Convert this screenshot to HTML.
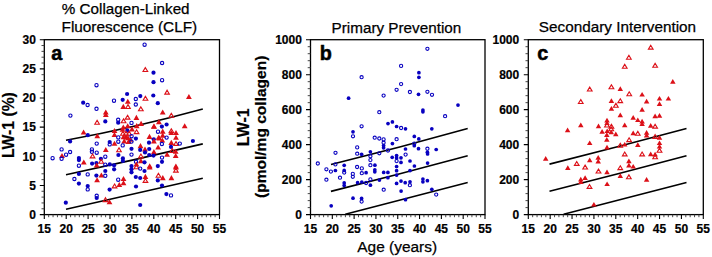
<!DOCTYPE html>
<html><head><meta charset="utf-8"><style>
html,body{margin:0;padding:0;background:#fff;width:712px;height:257px;overflow:hidden}
svg{display:block}
text{font-family:"Liberation Sans",sans-serif;fill:#000}
.t{font-size:12.0px;font-weight:bold;stroke:#000;stroke-width:0.2px}
.ti{font-size:15.2px;stroke:#000;stroke-width:0.25px}
.yt{font-size:15.8px;font-weight:bold;stroke:#000;stroke-width:0.2px}
.yt2{font-size:15.5px;font-weight:bold;stroke:#000;stroke-width:0.2px}
.pl{font-size:19.8px;font-weight:bold;stroke:#000;stroke-width:0.5px}
</style></head><body>
<svg width="712" height="257" viewBox="0 0 712 257">
<rect x="44.30" y="39.70" width="175.20" height="174.90" fill="none" stroke="#000" stroke-width="1.3"/>
<path d="M44.30 214.60v4.5M66.20 214.60v4.5M88.10 214.60v4.5M110.00 214.60v4.5M131.90 214.60v4.5M153.80 214.60v4.5M175.70 214.60v4.5M197.60 214.60v4.5M219.50 214.60v4.5M44.30 214.60h-4.5M44.30 185.45h-4.5M44.30 156.30h-4.5M44.30 127.15h-4.5M44.30 98.00h-4.5M44.30 68.85h-4.5M44.30 39.70h-4.5" stroke="#000" stroke-width="1.1" fill="none"/>
<path d="M48.68 214.60v2.6M53.06 214.60v2.6M57.44 214.60v2.6M61.82 214.60v2.6M70.58 214.60v2.6M74.96 214.60v2.6M79.34 214.60v2.6M83.72 214.60v2.6M92.48 214.60v2.6M96.86 214.60v2.6M101.24 214.60v2.6M105.62 214.60v2.6M114.38 214.60v2.6M118.76 214.60v2.6M123.14 214.60v2.6M127.52 214.60v2.6M136.28 214.60v2.6M140.66 214.60v2.6M145.04 214.60v2.6M149.42 214.60v2.6M158.18 214.60v2.6M162.56 214.60v2.6M166.94 214.60v2.6M171.32 214.60v2.6M180.08 214.60v2.6M184.46 214.60v2.6M188.84 214.60v2.6M193.22 214.60v2.6M201.98 214.60v2.6M206.36 214.60v2.6M210.74 214.60v2.6M215.12 214.60v2.6M44.30 208.77h-2.8M44.30 202.94h-2.8M44.30 197.11h-2.8M44.30 191.28h-2.8M44.30 179.62h-2.8M44.30 173.79h-2.8M44.30 167.96h-2.8M44.30 162.13h-2.8M44.30 150.47h-2.8M44.30 144.64h-2.8M44.30 138.81h-2.8M44.30 132.98h-2.8M44.30 121.32h-2.8M44.30 115.49h-2.8M44.30 109.66h-2.8M44.30 103.83h-2.8M44.30 92.17h-2.8M44.30 86.34h-2.8M44.30 80.51h-2.8M44.30 74.68h-2.8M44.30 63.02h-2.8M44.30 57.19h-2.8M44.30 51.36h-2.8M44.30 45.53h-2.8" stroke="#333" stroke-width="0.9" fill="none"/>
<text x="44.30" y="233" text-anchor="middle" class="t">15</text>
<text x="66.20" y="233" text-anchor="middle" class="t">20</text>
<text x="88.10" y="233" text-anchor="middle" class="t">25</text>
<text x="110.00" y="233" text-anchor="middle" class="t">30</text>
<text x="131.90" y="233" text-anchor="middle" class="t">35</text>
<text x="153.80" y="233" text-anchor="middle" class="t">40</text>
<text x="175.70" y="233" text-anchor="middle" class="t">45</text>
<text x="197.60" y="233" text-anchor="middle" class="t">50</text>
<text x="219.50" y="233" text-anchor="middle" class="t">55</text>
<text x="35.90" y="218.90" text-anchor="end" class="t">0</text>
<text x="35.90" y="189.75" text-anchor="end" class="t">5</text>
<text x="35.90" y="160.60" text-anchor="end" class="t">10</text>
<text x="35.90" y="131.45" text-anchor="end" class="t">15</text>
<text x="35.90" y="102.30" text-anchor="end" class="t">20</text>
<text x="35.90" y="73.15" text-anchor="end" class="t">25</text>
<text x="35.90" y="44.00" text-anchor="end" class="t">30</text>
<rect x="310.50" y="39.70" width="174.50" height="174.90" fill="none" stroke="#000" stroke-width="1.3"/>
<path d="M310.50 214.60v4.5M332.31 214.60v4.5M354.12 214.60v4.5M375.94 214.60v4.5M397.75 214.60v4.5M419.56 214.60v4.5M441.38 214.60v4.5M463.19 214.60v4.5M485.00 214.60v4.5M310.50 214.60h-4.5M310.50 179.62h-4.5M310.50 144.64h-4.5M310.50 109.66h-4.5M310.50 74.68h-4.5M310.50 39.70h-4.5" stroke="#000" stroke-width="1.1" fill="none"/>
<path d="M314.86 214.60v2.6M319.23 214.60v2.6M323.59 214.60v2.6M327.95 214.60v2.6M336.68 214.60v2.6M341.04 214.60v2.6M345.40 214.60v2.6M349.76 214.60v2.6M358.49 214.60v2.6M362.85 214.60v2.6M367.21 214.60v2.6M371.57 214.60v2.6M380.30 214.60v2.6M384.66 214.60v2.6M389.02 214.60v2.6M393.39 214.60v2.6M402.11 214.60v2.6M406.48 214.60v2.6M410.84 214.60v2.6M415.20 214.60v2.6M423.93 214.60v2.6M428.29 214.60v2.6M432.65 214.60v2.6M437.01 214.60v2.6M445.74 214.60v2.6M450.10 214.60v2.6M454.46 214.60v2.6M458.82 214.60v2.6M467.55 214.60v2.6M471.91 214.60v2.6M476.27 214.60v2.6M480.64 214.60v2.6M310.50 207.60h-2.8M310.50 200.61h-2.8M310.50 193.61h-2.8M310.50 186.62h-2.8M310.50 172.62h-2.8M310.50 165.63h-2.8M310.50 158.63h-2.8M310.50 151.64h-2.8M310.50 137.64h-2.8M310.50 130.65h-2.8M310.50 123.65h-2.8M310.50 116.66h-2.8M310.50 102.66h-2.8M310.50 95.67h-2.8M310.50 88.67h-2.8M310.50 81.68h-2.8M310.50 67.68h-2.8M310.50 60.69h-2.8M310.50 53.69h-2.8M310.50 46.70h-2.8" stroke="#333" stroke-width="0.9" fill="none"/>
<text x="310.50" y="233" text-anchor="middle" class="t">15</text>
<text x="332.31" y="233" text-anchor="middle" class="t">20</text>
<text x="354.12" y="233" text-anchor="middle" class="t">25</text>
<text x="375.94" y="233" text-anchor="middle" class="t">30</text>
<text x="397.75" y="233" text-anchor="middle" class="t">35</text>
<text x="419.56" y="233" text-anchor="middle" class="t">40</text>
<text x="441.38" y="233" text-anchor="middle" class="t">45</text>
<text x="463.19" y="233" text-anchor="middle" class="t">50</text>
<text x="485.00" y="233" text-anchor="middle" class="t">55</text>
<text x="301.90" y="218.90" text-anchor="end" class="t">0</text>
<text x="301.90" y="183.92" text-anchor="end" class="t">200</text>
<text x="301.90" y="148.94" text-anchor="end" class="t">400</text>
<text x="301.90" y="113.96" text-anchor="end" class="t">600</text>
<text x="301.90" y="78.98" text-anchor="end" class="t">800</text>
<text x="301.90" y="44.00" text-anchor="end" class="t">1000</text>
<rect x="528.30" y="39.70" width="175.00" height="174.90" fill="none" stroke="#000" stroke-width="1.3"/>
<path d="M528.30 214.60v4.5M550.17 214.60v4.5M572.05 214.60v4.5M593.92 214.60v4.5M615.80 214.60v4.5M637.67 214.60v4.5M659.55 214.60v4.5M681.42 214.60v4.5M703.30 214.60v4.5M528.30 214.60h-4.5M528.30 179.62h-4.5M528.30 144.64h-4.5M528.30 109.66h-4.5M528.30 74.68h-4.5M528.30 39.70h-4.5" stroke="#000" stroke-width="1.1" fill="none"/>
<path d="M532.67 214.60v2.6M537.05 214.60v2.6M541.42 214.60v2.6M545.80 214.60v2.6M554.55 214.60v2.6M558.92 214.60v2.6M563.30 214.60v2.6M567.67 214.60v2.6M576.42 214.60v2.6M580.80 214.60v2.6M585.17 214.60v2.6M589.55 214.60v2.6M598.30 214.60v2.6M602.67 214.60v2.6M607.05 214.60v2.6M611.42 214.60v2.6M620.17 214.60v2.6M624.55 214.60v2.6M628.92 214.60v2.6M633.30 214.60v2.6M642.05 214.60v2.6M646.42 214.60v2.6M650.80 214.60v2.6M655.17 214.60v2.6M663.92 214.60v2.6M668.30 214.60v2.6M672.67 214.60v2.6M677.05 214.60v2.6M685.80 214.60v2.6M690.17 214.60v2.6M694.55 214.60v2.6M698.92 214.60v2.6M528.30 207.60h-2.8M528.30 200.61h-2.8M528.30 193.61h-2.8M528.30 186.62h-2.8M528.30 172.62h-2.8M528.30 165.63h-2.8M528.30 158.63h-2.8M528.30 151.64h-2.8M528.30 137.64h-2.8M528.30 130.65h-2.8M528.30 123.65h-2.8M528.30 116.66h-2.8M528.30 102.66h-2.8M528.30 95.67h-2.8M528.30 88.67h-2.8M528.30 81.68h-2.8M528.30 67.68h-2.8M528.30 60.69h-2.8M528.30 53.69h-2.8M528.30 46.70h-2.8" stroke="#333" stroke-width="0.9" fill="none"/>
<text x="528.30" y="233" text-anchor="middle" class="t">15</text>
<text x="550.17" y="233" text-anchor="middle" class="t">20</text>
<text x="572.05" y="233" text-anchor="middle" class="t">25</text>
<text x="593.92" y="233" text-anchor="middle" class="t">30</text>
<text x="615.80" y="233" text-anchor="middle" class="t">35</text>
<text x="637.67" y="233" text-anchor="middle" class="t">40</text>
<text x="659.55" y="233" text-anchor="middle" class="t">45</text>
<text x="681.42" y="233" text-anchor="middle" class="t">50</text>
<text x="703.30" y="233" text-anchor="middle" class="t">55</text>
<text x="519.20" y="218.90" text-anchor="end" class="t">0</text>
<text x="519.20" y="183.92" text-anchor="end" class="t">200</text>
<text x="519.20" y="148.94" text-anchor="end" class="t">400</text>
<text x="519.20" y="113.96" text-anchor="end" class="t">600</text>
<text x="519.20" y="78.98" text-anchor="end" class="t">800</text>
<text x="519.20" y="44.00" text-anchor="end" class="t">1000</text>
<text x="61.8" y="14.3" class="ti" textLength="127.8" lengthAdjust="spacingAndGlyphs">% Collagen-Linked</text>
<text x="61.5" y="32.0" class="ti" textLength="135.7" lengthAdjust="spacingAndGlyphs">Fluorescence (CLF)</text>
<text x="331.6" y="32.5" class="ti" textLength="129.7" lengthAdjust="spacingAndGlyphs">Primary Prevention</text>
<text x="538.8" y="31.9" class="ti" textLength="157.3" lengthAdjust="spacingAndGlyphs">Secondary Intervention</text>
<text x="357.3" y="251.6" class="ti" textLength="79.8" lengthAdjust="spacingAndGlyphs">Age (years)</text>
<text transform="translate(13.8,158.1) rotate(-90)" class="yt" textLength="65.9" lengthAdjust="spacingAndGlyphs">LW-1 (%)</text>
<text transform="translate(249.1,146.2) rotate(-90)" class="yt" style="font-size:16.1px" textLength="38.0" lengthAdjust="spacingAndGlyphs">LW-1</text>
<text transform="translate(266.2,198.0) rotate(-90)" class="yt2" textLength="142.4" lengthAdjust="spacingAndGlyphs">(pmol/mg collagen)</text>
<text x="51.3" y="59.6" class="pl">a</text>
<text x="319.7" y="59.6" class="pl">b</text>
<text x="537.3" y="59.8" class="pl">c</text>
<path d="M66.0 140.3Q134.4 127.7 202.8 109.0M66.0 174.8Q134.4 160.0 202.8 143.9M66.0 209.3Q134.4 193.8 202.8 178.3M331.0 164.5Q399.4 147.7 467.7 128.5M330.9 191.4Q399.3 174.2 467.7 155.7M345.3 214.2Q406.5 198.3 467.7 182.4M549.5 164.1Q618.0 146.9 686.5 128.5M549.5 191.2Q618.0 174.0 686.5 155.7M563.6 214.2Q625.0 198.3 686.5 182.4" stroke="#000" stroke-width="1.6" fill="none" stroke-linecap="butt"/>
<circle cx="144.6" cy="44.7" r="1.65" fill="none" stroke="#0800c0" stroke-width="1.1"/>
<circle cx="162.1" cy="63.0" r="1.65" fill="none" stroke="#0800c0" stroke-width="1.1"/>
<path d="M145.3 67.6L147.7 71.5L143.0 71.5Z" fill="none" stroke="#dc1018" stroke-width="1.1" stroke-linejoin="miter"/>
<circle cx="153.5" cy="72.7" r="2.1" fill="#0800c0"/>
<circle cx="153.5" cy="82.2" r="2.1" fill="#0800c0"/>
<circle cx="162.1" cy="80.2" r="1.65" fill="none" stroke="#0800c0" stroke-width="1.1"/>
<circle cx="96.5" cy="85.2" r="1.65" fill="none" stroke="#0800c0" stroke-width="1.1"/>
<circle cx="127.1" cy="94.0" r="2.1" fill="#0800c0"/>
<path d="M167.1 90.2L169.4 94.1L164.8 94.1Z" fill="none" stroke="#dc1018" stroke-width="1.1" stroke-linejoin="miter"/>
<circle cx="140.3" cy="96.1" r="2.1" fill="#0800c0"/>
<circle cx="153.3" cy="95.5" r="2.1" fill="#0800c0"/>
<path d="M188.9 93.9L191.80 99.0L186.00 99.0Z" fill="#dc1018"/>
<circle cx="83.2" cy="102.7" r="2.1" fill="#0800c0"/>
<circle cx="87.6" cy="105.0" r="1.65" fill="none" stroke="#0800c0" stroke-width="1.1"/>
<circle cx="114.0" cy="100.7" r="1.65" fill="none" stroke="#0800c0" stroke-width="1.1"/>
<circle cx="122.7" cy="99.8" r="2.1" fill="#0800c0"/>
<path d="M127.8 98.7L130.70 103.8L124.90 103.8Z" fill="#dc1018"/>
<path d="M123.3 103.8L126.20 108.9L120.40 108.9Z" fill="#dc1018"/>
<path d="M128.0 104.6L130.3 108.5L125.7 108.5Z" fill="none" stroke="#dc1018" stroke-width="1.1" stroke-linejoin="miter"/>
<circle cx="135.8" cy="99.0" r="1.65" fill="none" stroke="#0800c0" stroke-width="1.1"/>
<circle cx="135.8" cy="104.5" r="1.65" fill="none" stroke="#0800c0" stroke-width="1.1"/>
<path d="M145.4 96.4L147.8 100.3L143.1 100.3Z" fill="none" stroke="#dc1018" stroke-width="1.1" stroke-linejoin="miter"/>
<circle cx="157.8" cy="103.2" r="2.1" fill="#0800c0"/>
<path d="M140.8 106.9L143.2 110.8L138.5 110.8Z" fill="none" stroke="#dc1018" stroke-width="1.1" stroke-linejoin="miter"/>
<circle cx="96.5" cy="108.8" r="1.65" fill="none" stroke="#0800c0" stroke-width="1.1"/>
<circle cx="70.4" cy="115.6" r="1.65" fill="none" stroke="#0800c0" stroke-width="1.1"/>
<path d="M97.1 120.3L99.4 124.2L94.8 124.2Z" fill="none" stroke="#dc1018" stroke-width="1.1" stroke-linejoin="miter"/>
<path d="M105.8 109.5L108.70 114.6L102.90 114.6Z" fill="#dc1018"/>
<path d="M105.8 111.9L108.70 117.0L102.90 117.0Z" fill="#dc1018"/>
<circle cx="105.3" cy="121.4" r="2.1" fill="#0800c0"/>
<circle cx="118.2" cy="119.8" r="1.65" fill="none" stroke="#0800c0" stroke-width="1.1"/>
<circle cx="118.2" cy="122.7" r="2.1" fill="#0800c0"/>
<path d="M123.6 118.9L125.9 122.8L121.2 122.8Z" fill="none" stroke="#dc1018" stroke-width="1.1" stroke-linejoin="miter"/>
<path d="M127.6 115.2L129.9 119.1L125.2 119.1Z" fill="none" stroke="#dc1018" stroke-width="1.1" stroke-linejoin="miter"/>
<path d="M136.4 114.8L139.30 119.9L133.50 119.9Z" fill="#dc1018"/>
<circle cx="131.5" cy="122.9" r="1.65" fill="none" stroke="#0800c0" stroke-width="1.1"/>
<path d="M141.1 120.8L144.00 125.9L138.20 125.9Z" fill="#dc1018"/>
<path d="M136.7 123.1L139.60 128.2L133.80 128.2Z" fill="#dc1018"/>
<path d="M154.0 123.4L156.90 128.5L151.10 128.5Z" fill="#dc1018"/>
<path d="M158.9 119.1L161.80 124.2L156.00 124.2Z" fill="#dc1018"/>
<path d="M162.7 109.5L165.60 114.6L159.80 114.6Z" fill="#dc1018"/>
<path d="M171.3 113.4L173.7 117.3L169.0 117.3Z" fill="none" stroke="#dc1018" stroke-width="1.1" stroke-linejoin="miter"/>
<circle cx="166.6" cy="124.5" r="2.1" fill="#0800c0"/>
<circle cx="161.9" cy="126.6" r="2.1" fill="#0800c0"/>
<path d="M184.7 123.2L187.60 128.3L181.80 128.3Z" fill="#dc1018"/>
<path d="M83.6 129.5L86.50 134.6L80.70 134.6Z" fill="#dc1018"/>
<circle cx="87.8" cy="135.2" r="2.1" fill="#0800c0"/>
<path d="M97.3 133.2L100.20 138.3L94.40 138.3Z" fill="#dc1018"/>
<circle cx="70.1" cy="141.4" r="2.1" fill="#0800c0"/>
<circle cx="96.7" cy="143.6" r="1.65" fill="none" stroke="#0800c0" stroke-width="1.1"/>
<path d="M114.5 127.9L117.40 133.0L111.60 133.0Z" fill="#dc1018"/>
<path d="M114.5 131.9L117.40 137.0L111.60 137.0Z" fill="#dc1018"/>
<path d="M123.3 124.4L126.20 129.5L120.40 129.5Z" fill="#dc1018"/>
<path d="M127.7 123.2L130.60 128.3L124.80 128.3Z" fill="#dc1018"/>
<circle cx="127.4" cy="130.7" r="2.1" fill="#0800c0"/>
<path d="M132.0 126.3L134.90 131.4L129.10 131.4Z" fill="#dc1018"/>
<path d="M136.6 129.7L138.9 133.6L134.2 133.6Z" fill="none" stroke="#dc1018" stroke-width="1.1" stroke-linejoin="miter"/>
<path d="M122.5 126.7L125.40 131.8L119.60 131.8Z" fill="#dc1018"/>
<path d="M122.9 131.3L125.2 135.2L120.6 135.2Z" fill="none" stroke="#dc1018" stroke-width="1.1" stroke-linejoin="miter"/>
<path d="M126.0 131.3L128.3 135.2L123.7 135.2Z" fill="none" stroke="#dc1018" stroke-width="1.1" stroke-linejoin="miter"/>
<path d="M129.2 131.3L131.5 135.2L126.8 135.2Z" fill="none" stroke="#dc1018" stroke-width="1.1" stroke-linejoin="miter"/>
<path d="M126.0 134.1L128.90 139.2L123.10 139.2Z" fill="#dc1018"/>
<path d="M130.5 136.6L133.40 141.7L127.60 141.7Z" fill="#dc1018"/>
<path d="M128.5 138.9L131.40 144.0L125.60 144.0Z" fill="#dc1018"/>
<path d="M123.5 134.1L126.40 139.2L120.60 139.2Z" fill="#dc1018"/>
<path d="M128.0 135.1L130.90 140.2L125.10 140.2Z" fill="#dc1018"/>
<path d="M124.2 138.3L127.10 143.4L121.30 143.4Z" fill="#dc1018"/>
<circle cx="118.3" cy="137.4" r="1.65" fill="none" stroke="#0800c0" stroke-width="1.1"/>
<circle cx="118.3" cy="141.7" r="1.65" fill="none" stroke="#0800c0" stroke-width="1.1"/>
<circle cx="135.9" cy="138.6" r="2.1" fill="#0800c0"/>
<circle cx="131.5" cy="141.6" r="1.65" fill="none" stroke="#0800c0" stroke-width="1.1"/>
<circle cx="109.7" cy="142.0" r="2.1" fill="#0800c0"/>
<circle cx="109.7" cy="144.4" r="1.65" fill="none" stroke="#0800c0" stroke-width="1.1"/>
<path d="M114.5 140.7L117.40 145.8L111.60 145.8Z" fill="#dc1018"/>
<circle cx="122.7" cy="145.4" r="1.65" fill="none" stroke="#0800c0" stroke-width="1.1"/>
<path d="M140.5 143.1L143.40 148.2L137.60 148.2Z" fill="#dc1018"/>
<circle cx="131.6" cy="136.2" r="1.65" fill="none" stroke="#0800c0" stroke-width="1.1"/>
<circle cx="158.0" cy="131.7" r="1.65" fill="none" stroke="#0800c0" stroke-width="1.1"/>
<path d="M153.9 123.7L156.80 128.8L151.00 128.8Z" fill="#dc1018"/>
<path d="M149.5 133.8L152.40 138.9L146.60 138.9Z" fill="#dc1018"/>
<circle cx="153.8" cy="139.3" r="2.1" fill="#0800c0"/>
<path d="M153.9 138.3L156.80 143.4L151.00 143.4Z" fill="#dc1018"/>
<path d="M158.6 134.7L161.50 139.8L155.70 139.8Z" fill="#dc1018"/>
<circle cx="149.0" cy="142.7" r="2.1" fill="#0800c0"/>
<path d="M162.7 128.6L165.60 133.7L159.80 133.7Z" fill="#dc1018"/>
<path d="M162.7 132.6L165.60 137.7L159.80 137.7Z" fill="#dc1018"/>
<path d="M171.3 128.7L173.7 132.6L169.0 132.6Z" fill="none" stroke="#dc1018" stroke-width="1.1" stroke-linejoin="miter"/>
<path d="M171.3 129.9L174.20 135.0L168.40 135.0Z" fill="#dc1018"/>
<path d="M176.0 129.9L178.90 135.0L173.10 135.0Z" fill="#dc1018"/>
<path d="M176.0 134.7L178.90 139.8L173.10 139.8Z" fill="#dc1018"/>
<circle cx="166.6" cy="137.6" r="1.65" fill="none" stroke="#0800c0" stroke-width="1.1"/>
<path d="M159.3 135.4L162.20 140.5L156.40 140.5Z" fill="#dc1018"/>
<path d="M162.3 137.4L165.20 142.5L159.40 142.5Z" fill="#dc1018"/>
<circle cx="161.9" cy="144.0" r="1.65" fill="none" stroke="#0800c0" stroke-width="1.1"/>
<path d="M171.3 139.8L174.20 144.9L168.40 144.9Z" fill="#dc1018"/>
<path d="M176.0 141.5L178.3 145.4L173.7 145.4Z" fill="none" stroke="#dc1018" stroke-width="1.1" stroke-linejoin="miter"/>
<circle cx="179.8" cy="143.6" r="1.65" fill="none" stroke="#0800c0" stroke-width="1.1"/>
<circle cx="192.9" cy="141.0" r="2.1" fill="#0800c0"/>
<circle cx="61.6" cy="149.4" r="1.65" fill="none" stroke="#0800c0" stroke-width="1.1"/>
<circle cx="70.1" cy="152.0" r="1.65" fill="none" stroke="#0800c0" stroke-width="1.1"/>
<circle cx="66.1" cy="154.7" r="1.65" fill="none" stroke="#0800c0" stroke-width="1.1"/>
<path d="M62.0 152.9L64.90 158.0L59.10 158.0Z" fill="#dc1018"/>
<circle cx="61.6" cy="158.8" r="1.65" fill="none" stroke="#0800c0" stroke-width="1.1"/>
<circle cx="52.6" cy="158.2" r="1.65" fill="none" stroke="#0800c0" stroke-width="1.1"/>
<circle cx="78.9" cy="158.0" r="2.1" fill="#0800c0"/>
<circle cx="78.9" cy="160.1" r="2.1" fill="#0800c0"/>
<path d="M83.8 159.4L86.70 164.5L80.90 164.5Z" fill="#dc1018"/>
<circle cx="78.9" cy="165.7" r="1.65" fill="none" stroke="#0800c0" stroke-width="1.1"/>
<circle cx="91.9" cy="149.4" r="1.65" fill="none" stroke="#0800c0" stroke-width="1.1"/>
<circle cx="91.9" cy="151.8" r="1.65" fill="none" stroke="#0800c0" stroke-width="1.1"/>
<circle cx="96.7" cy="152.7" r="1.65" fill="none" stroke="#0800c0" stroke-width="1.1"/>
<path d="M92.6 154.0L94.9 157.9L90.2 157.9Z" fill="none" stroke="#dc1018" stroke-width="1.1" stroke-linejoin="miter"/>
<circle cx="92.1" cy="163.6" r="2.1" fill="#0800c0"/>
<circle cx="96.4" cy="163.1" r="2.1" fill="#0800c0"/>
<path d="M96.7 162.4L99.60 167.5L93.80 167.5Z" fill="#dc1018"/>
<circle cx="100.9" cy="158.8" r="2.1" fill="#0800c0"/>
<path d="M101.2 159.3L103.5 163.2L98.9 163.2Z" fill="none" stroke="#dc1018" stroke-width="1.1" stroke-linejoin="miter"/>
<path d="M105.8 147.0L108.70 152.1L102.90 152.1Z" fill="#dc1018"/>
<path d="M119.0 147.8L121.3 151.7L116.7 151.7Z" fill="none" stroke="#dc1018" stroke-width="1.1" stroke-linejoin="miter"/>
<circle cx="131.5" cy="148.8" r="2.1" fill="#0800c0"/>
<circle cx="131.5" cy="154.6" r="1.65" fill="none" stroke="#0800c0" stroke-width="1.1"/>
<circle cx="105.3" cy="156.7" r="1.65" fill="none" stroke="#0800c0" stroke-width="1.1"/>
<circle cx="118.4" cy="155.0" r="2.1" fill="#0800c0"/>
<circle cx="122.9" cy="158.4" r="2.1" fill="#0800c0"/>
<circle cx="122.9" cy="161.0" r="2.1" fill="#0800c0"/>
<circle cx="105.3" cy="164.7" r="1.65" fill="none" stroke="#0800c0" stroke-width="1.1"/>
<circle cx="109.8" cy="164.4" r="2.1" fill="#0800c0"/>
<circle cx="114.1" cy="165.3" r="2.1" fill="#0800c0"/>
<circle cx="140.2" cy="149.9" r="2.1" fill="#0800c0"/>
<path d="M145.0 146.5L147.90 151.6L142.10 151.6Z" fill="#dc1018"/>
<circle cx="145.0" cy="152.4" r="2.1" fill="#0800c0"/>
<circle cx="149.2" cy="149.0" r="2.1" fill="#0800c0"/>
<path d="M153.9 149.1L156.80 154.2L151.00 154.2Z" fill="#dc1018"/>
<circle cx="149.2" cy="155.0" r="2.1" fill="#0800c0"/>
<circle cx="153.5" cy="155.6" r="2.1" fill="#0800c0"/>
<path d="M140.9 154.0L143.2 157.9L138.6 157.9Z" fill="none" stroke="#dc1018" stroke-width="1.1" stroke-linejoin="miter"/>
<path d="M140.9 158.1L143.80 163.2L138.00 163.2Z" fill="#dc1018"/>
<circle cx="144.5" cy="162.3" r="2.1" fill="#0800c0"/>
<circle cx="136.0" cy="161.8" r="1.65" fill="none" stroke="#0800c0" stroke-width="1.1"/>
<path d="M136.4 161.5L139.30 166.6L133.50 166.6Z" fill="#dc1018"/>
<circle cx="131.5" cy="166.1" r="2.1" fill="#0800c0"/>
<path d="M149.7 163.2L152.60 168.3L146.80 168.3Z" fill="#dc1018"/>
<circle cx="157.8" cy="166.1" r="2.1" fill="#0800c0"/>
<path d="M158.1 144.4L161.00 149.5L155.20 149.5Z" fill="#dc1018"/>
<circle cx="171.0" cy="146.9" r="2.1" fill="#0800c0"/>
<path d="M167.1 151.7L170.00 156.8L164.20 156.8Z" fill="#dc1018"/>
<path d="M175.7 148.7L178.60 153.8L172.80 153.8Z" fill="#dc1018"/>
<path d="M175.7 152.9L178.60 158.0L172.80 158.0Z" fill="#dc1018"/>
<path d="M172.3 148.6L174.7 152.5L170.0 152.5Z" fill="none" stroke="#dc1018" stroke-width="1.1" stroke-linejoin="miter"/>
<circle cx="162.0" cy="157.6" r="1.65" fill="none" stroke="#0800c0" stroke-width="1.1"/>
<circle cx="162.0" cy="161.8" r="2.1" fill="#0800c0"/>
<path d="M175.9 163.4L178.80 168.5L173.00 168.5Z" fill="#dc1018"/>
<circle cx="78.9" cy="173.9" r="2.1" fill="#0800c0"/>
<circle cx="87.7" cy="174.4" r="1.65" fill="none" stroke="#0800c0" stroke-width="1.1"/>
<circle cx="74.4" cy="179.0" r="1.65" fill="none" stroke="#0800c0" stroke-width="1.1"/>
<circle cx="78.9" cy="183.6" r="2.1" fill="#0800c0"/>
<circle cx="87.7" cy="186.1" r="2.1" fill="#0800c0"/>
<circle cx="96.4" cy="175.6" r="2.1" fill="#0800c0"/>
<path d="M101.4 172.5L104.30 177.6L98.50 177.6Z" fill="#dc1018"/>
<path d="M97.1 177.2L100.00 182.3L94.20 182.3Z" fill="#dc1018"/>
<circle cx="114.1" cy="169.3" r="2.1" fill="#0800c0"/>
<circle cx="105.3" cy="171.0" r="2.1" fill="#0800c0"/>
<circle cx="105.3" cy="175.8" r="1.65" fill="none" stroke="#0800c0" stroke-width="1.1"/>
<circle cx="118.2" cy="179.7" r="1.65" fill="none" stroke="#0800c0" stroke-width="1.1"/>
<path d="M123.5 175.9L126.40 181.0L120.60 181.0Z" fill="#dc1018"/>
<path d="M123.5 180.2L126.40 185.3L120.60 185.3Z" fill="#dc1018"/>
<path d="M119.3 181.9L122.20 187.0L116.40 187.0Z" fill="#dc1018"/>
<path d="M114.6 184.0L116.9 187.9L112.2 187.9Z" fill="none" stroke="#dc1018" stroke-width="1.1" stroke-linejoin="miter"/>
<circle cx="131.5" cy="169.2" r="2.1" fill="#0800c0"/>
<circle cx="131.5" cy="172.3" r="2.1" fill="#0800c0"/>
<path d="M136.4 164.8L138.8 168.7L134.1 168.7Z" fill="none" stroke="#dc1018" stroke-width="1.1" stroke-linejoin="miter"/>
<circle cx="140.2" cy="168.6" r="1.65" fill="none" stroke="#0800c0" stroke-width="1.1"/>
<circle cx="144.5" cy="171.0" r="2.1" fill="#0800c0"/>
<path d="M149.7 164.4L152.60 169.5L146.80 169.5Z" fill="#dc1018"/>
<circle cx="135.8" cy="177.0" r="2.1" fill="#0800c0"/>
<circle cx="140.2" cy="178.0" r="2.1" fill="#0800c0"/>
<path d="M145.4 173.8L148.30 178.9L142.50 178.9Z" fill="#dc1018"/>
<path d="M145.4 178.5L147.8 182.4L143.1 182.4Z" fill="none" stroke="#dc1018" stroke-width="1.1" stroke-linejoin="miter"/>
<circle cx="157.8" cy="180.4" r="2.1" fill="#0800c0"/>
<circle cx="136.0" cy="186.5" r="2.1" fill="#0800c0"/>
<path d="M175.9 164.4L178.80 169.5L173.00 169.5Z" fill="#dc1018"/>
<path d="M175.9 168.2L178.2 172.1L173.6 172.1Z" fill="none" stroke="#dc1018" stroke-width="1.1" stroke-linejoin="miter"/>
<path d="M158.4 173.3L160.8 177.2L156.1 177.2Z" fill="none" stroke="#dc1018" stroke-width="1.1" stroke-linejoin="miter"/>
<path d="M162.8 175.1L165.70 180.2L159.90 180.2Z" fill="#dc1018"/>
<path d="M171.4 175.1L174.30 180.2L168.50 180.2Z" fill="#dc1018"/>
<circle cx="162.0" cy="185.5" r="2.1" fill="#0800c0"/>
<circle cx="87.7" cy="189.4" r="1.65" fill="none" stroke="#0800c0" stroke-width="1.1"/>
<circle cx="96.7" cy="195.8" r="1.65" fill="none" stroke="#0800c0" stroke-width="1.1"/>
<circle cx="96.7" cy="198.0" r="2.1" fill="#0800c0"/>
<circle cx="65.8" cy="202.7" r="2.1" fill="#0800c0"/>
<circle cx="109.6" cy="189.6" r="2.1" fill="#0800c0"/>
<path d="M105.5 197.7L107.8 201.6L103.2 201.6Z" fill="none" stroke="#dc1018" stroke-width="1.1" stroke-linejoin="miter"/>
<path d="M109.5 199.2L112.40 204.3L106.60 204.3Z" fill="#dc1018"/>
<circle cx="140.2" cy="205.0" r="2.1" fill="#0800c0"/>
<circle cx="166.4" cy="194.1" r="2.1" fill="#0800c0"/>
<circle cx="171.0" cy="195.4" r="1.65" fill="none" stroke="#0800c0" stroke-width="1.1"/>
<circle cx="427.4" cy="48.8" r="1.6" fill="none" stroke="#0800c0" stroke-width="1.1"/>
<circle cx="401.1" cy="65.9" r="1.6" fill="none" stroke="#0800c0" stroke-width="1.1"/>
<circle cx="361.6" cy="77.2" r="1.6" fill="none" stroke="#0800c0" stroke-width="1.1"/>
<circle cx="348.6" cy="98.2" r="1.85" fill="#0800c0"/>
<circle cx="383.6" cy="95.6" r="1.6" fill="none" stroke="#0800c0" stroke-width="1.1"/>
<circle cx="396.6" cy="89.8" r="1.6" fill="none" stroke="#0800c0" stroke-width="1.1"/>
<circle cx="418.9" cy="72.7" r="1.85" fill="#0800c0"/>
<circle cx="418.9" cy="77.3" r="1.85" fill="#0800c0"/>
<circle cx="401.1" cy="84.1" r="1.6" fill="none" stroke="#0800c0" stroke-width="1.1"/>
<circle cx="409.9" cy="92.0" r="1.6" fill="none" stroke="#0800c0" stroke-width="1.1"/>
<circle cx="418.5" cy="94.3" r="1.85" fill="#0800c0"/>
<circle cx="427.4" cy="91.8" r="1.6" fill="none" stroke="#0800c0" stroke-width="1.1"/>
<circle cx="432.0" cy="94.8" r="1.6" fill="none" stroke="#0800c0" stroke-width="1.1"/>
<circle cx="379.3" cy="112.2" r="1.6" fill="none" stroke="#0800c0" stroke-width="1.1"/>
<circle cx="388.0" cy="123.6" r="1.85" fill="#0800c0"/>
<circle cx="392.4" cy="121.9" r="1.85" fill="#0800c0"/>
<circle cx="396.6" cy="126.5" r="1.85" fill="#0800c0"/>
<circle cx="361.6" cy="126.3" r="1.6" fill="none" stroke="#0800c0" stroke-width="1.1"/>
<circle cx="458.0" cy="105.1" r="1.85" fill="#0800c0"/>
<circle cx="422.9" cy="110.0" r="1.85" fill="#0800c0"/>
<circle cx="422.9" cy="111.8" r="1.85" fill="#0800c0"/>
<circle cx="445.1" cy="116.2" r="1.6" fill="none" stroke="#0800c0" stroke-width="1.1"/>
<circle cx="353.0" cy="131.8" r="1.85" fill="#0800c0"/>
<circle cx="353.0" cy="136.3" r="1.6" fill="none" stroke="#0800c0" stroke-width="1.1"/>
<circle cx="374.7" cy="137.7" r="1.6" fill="none" stroke="#0800c0" stroke-width="1.1"/>
<circle cx="379.3" cy="138.5" r="1.6" fill="none" stroke="#0800c0" stroke-width="1.1"/>
<circle cx="383.6" cy="139.4" r="1.6" fill="none" stroke="#0800c0" stroke-width="1.1"/>
<circle cx="383.6" cy="142.7" r="1.6" fill="none" stroke="#0800c0" stroke-width="1.1"/>
<circle cx="383.6" cy="145.6" r="1.85" fill="#0800c0"/>
<circle cx="383.6" cy="147.8" r="1.85" fill="#0800c0"/>
<circle cx="392.4" cy="143.6" r="1.85" fill="#0800c0"/>
<circle cx="396.6" cy="139.2" r="1.6" fill="none" stroke="#0800c0" stroke-width="1.1"/>
<circle cx="357.2" cy="147.4" r="1.6" fill="none" stroke="#0800c0" stroke-width="1.1"/>
<circle cx="335.5" cy="152.8" r="1.6" fill="none" stroke="#0800c0" stroke-width="1.1"/>
<circle cx="357.2" cy="153.7" r="1.6" fill="none" stroke="#0800c0" stroke-width="1.1"/>
<circle cx="361.6" cy="154.3" r="1.85" fill="#0800c0"/>
<circle cx="370.4" cy="151.8" r="1.85" fill="#0800c0"/>
<circle cx="379.3" cy="153.3" r="1.6" fill="none" stroke="#0800c0" stroke-width="1.1"/>
<circle cx="388.0" cy="150.5" r="1.6" fill="none" stroke="#0800c0" stroke-width="1.1"/>
<circle cx="401.1" cy="128.0" r="1.6" fill="none" stroke="#0800c0" stroke-width="1.1"/>
<circle cx="405.5" cy="128.8" r="1.85" fill="#0800c0"/>
<circle cx="431.8" cy="128.8" r="1.85" fill="#0800c0"/>
<circle cx="414.3" cy="136.4" r="1.85" fill="#0800c0"/>
<circle cx="418.8" cy="138.9" r="1.85" fill="#0800c0"/>
<circle cx="414.3" cy="143.6" r="1.6" fill="none" stroke="#0800c0" stroke-width="1.1"/>
<circle cx="414.3" cy="145.7" r="1.85" fill="#0800c0"/>
<circle cx="405.5" cy="149.0" r="1.85" fill="#0800c0"/>
<circle cx="418.5" cy="148.7" r="1.85" fill="#0800c0"/>
<circle cx="427.4" cy="148.7" r="1.6" fill="none" stroke="#0800c0" stroke-width="1.1"/>
<circle cx="427.4" cy="152.2" r="1.85" fill="#0800c0"/>
<circle cx="436.2" cy="149.5" r="1.85" fill="#0800c0"/>
<circle cx="370.4" cy="156.2" r="1.6" fill="none" stroke="#0800c0" stroke-width="1.1"/>
<circle cx="370.4" cy="160.1" r="1.6" fill="none" stroke="#0800c0" stroke-width="1.1"/>
<circle cx="392.2" cy="157.3" r="1.85" fill="#0800c0"/>
<circle cx="396.6" cy="155.6" r="1.85" fill="#0800c0"/>
<circle cx="396.6" cy="158.0" r="1.85" fill="#0800c0"/>
<circle cx="396.6" cy="161.1" r="1.6" fill="none" stroke="#0800c0" stroke-width="1.1"/>
<circle cx="344.2" cy="165.3" r="1.85" fill="#0800c0"/>
<circle cx="357.1" cy="167.0" r="1.6" fill="none" stroke="#0800c0" stroke-width="1.1"/>
<circle cx="361.8" cy="168.4" r="1.6" fill="none" stroke="#0800c0" stroke-width="1.1"/>
<circle cx="370.4" cy="165.2" r="1.6" fill="none" stroke="#0800c0" stroke-width="1.1"/>
<circle cx="374.9" cy="165.2" r="1.85" fill="#0800c0"/>
<circle cx="396.6" cy="166.5" r="1.85" fill="#0800c0"/>
<circle cx="344.2" cy="170.4" r="1.85" fill="#0800c0"/>
<circle cx="344.2" cy="172.6" r="1.6" fill="none" stroke="#0800c0" stroke-width="1.1"/>
<circle cx="352.8" cy="173.9" r="1.6" fill="none" stroke="#0800c0" stroke-width="1.1"/>
<circle cx="352.8" cy="176.8" r="1.6" fill="none" stroke="#0800c0" stroke-width="1.1"/>
<circle cx="361.8" cy="173.2" r="1.6" fill="none" stroke="#0800c0" stroke-width="1.1"/>
<circle cx="366.1" cy="172.7" r="1.85" fill="#0800c0"/>
<circle cx="374.8" cy="169.8" r="1.85" fill="#0800c0"/>
<circle cx="374.8" cy="171.8" r="1.85" fill="#0800c0"/>
<circle cx="383.7" cy="172.4" r="1.85" fill="#0800c0"/>
<circle cx="387.9" cy="172.4" r="1.85" fill="#0800c0"/>
<circle cx="396.6" cy="170.7" r="1.85" fill="#0800c0"/>
<circle cx="396.6" cy="175.1" r="1.85" fill="#0800c0"/>
<circle cx="340.0" cy="177.7" r="1.6" fill="none" stroke="#0800c0" stroke-width="1.1"/>
<circle cx="344.2" cy="182.9" r="1.85" fill="#0800c0"/>
<circle cx="344.2" cy="185.5" r="1.85" fill="#0800c0"/>
<circle cx="357.6" cy="182.7" r="1.85" fill="#0800c0"/>
<circle cx="361.8" cy="182.0" r="1.85" fill="#0800c0"/>
<circle cx="366.1" cy="183.0" r="1.6" fill="none" stroke="#0800c0" stroke-width="1.1"/>
<circle cx="370.4" cy="179.4" r="1.6" fill="none" stroke="#0800c0" stroke-width="1.1"/>
<circle cx="370.4" cy="185.2" r="1.85" fill="#0800c0"/>
<circle cx="379.4" cy="180.1" r="1.85" fill="#0800c0"/>
<circle cx="387.9" cy="177.7" r="1.85" fill="#0800c0"/>
<circle cx="396.6" cy="183.4" r="1.85" fill="#0800c0"/>
<circle cx="383.7" cy="189.7" r="1.6" fill="none" stroke="#0800c0" stroke-width="1.1"/>
<circle cx="317.8" cy="163.5" r="1.6" fill="none" stroke="#0800c0" stroke-width="1.1"/>
<circle cx="335.4" cy="164.4" r="1.6" fill="none" stroke="#0800c0" stroke-width="1.1"/>
<circle cx="326.4" cy="169.3" r="1.6" fill="none" stroke="#0800c0" stroke-width="1.1"/>
<circle cx="330.9" cy="171.6" r="1.6" fill="none" stroke="#0800c0" stroke-width="1.1"/>
<circle cx="335.4" cy="170.5" r="1.85" fill="#0800c0"/>
<circle cx="326.4" cy="179.7" r="1.6" fill="none" stroke="#0800c0" stroke-width="1.1"/>
<circle cx="405.6" cy="154.6" r="1.6" fill="none" stroke="#0800c0" stroke-width="1.1"/>
<circle cx="427.6" cy="154.0" r="1.85" fill="#0800c0"/>
<circle cx="401.0" cy="157.8" r="1.85" fill="#0800c0"/>
<circle cx="401.0" cy="162.4" r="1.85" fill="#0800c0"/>
<circle cx="410.0" cy="161.0" r="1.85" fill="#0800c0"/>
<circle cx="427.6" cy="163.1" r="1.85" fill="#0800c0"/>
<circle cx="414.4" cy="166.0" r="1.85" fill="#0800c0"/>
<circle cx="410.0" cy="170.6" r="1.85" fill="#0800c0"/>
<circle cx="401.0" cy="181.1" r="1.85" fill="#0800c0"/>
<circle cx="405.2" cy="182.7" r="1.85" fill="#0800c0"/>
<circle cx="410.0" cy="181.8" r="1.85" fill="#0800c0"/>
<circle cx="422.9" cy="179.0" r="1.85" fill="#0800c0"/>
<circle cx="422.9" cy="181.8" r="1.85" fill="#0800c0"/>
<circle cx="427.4" cy="180.7" r="1.85" fill="#0800c0"/>
<circle cx="353.0" cy="198.2" r="1.85" fill="#0800c0"/>
<circle cx="361.6" cy="198.4" r="1.85" fill="#0800c0"/>
<circle cx="361.6" cy="201.6" r="1.6" fill="none" stroke="#0800c0" stroke-width="1.1"/>
<circle cx="331.2" cy="205.8" r="1.85" fill="#0800c0"/>
<circle cx="409.9" cy="185.2" r="1.6" fill="none" stroke="#0800c0" stroke-width="1.1"/>
<circle cx="401.1" cy="191.1" r="1.85" fill="#0800c0"/>
<circle cx="431.8" cy="189.3" r="1.85" fill="#0800c0"/>
<circle cx="436.2" cy="194.6" r="1.6" fill="none" stroke="#0800c0" stroke-width="1.1"/>
<circle cx="405.5" cy="199.7" r="1.85" fill="#0800c0"/>
<path d="M650.7 45.2L653.1 49.1L648.4 49.1Z" fill="none" stroke="#dc1018" stroke-width="1.1" stroke-linejoin="miter"/>
<path d="M628.9 55.3L631.2 59.2L626.5 59.2Z" fill="none" stroke="#dc1018" stroke-width="1.1" stroke-linejoin="miter"/>
<path d="M624.7 64.4L627.1 68.3L622.4 68.3Z" fill="none" stroke="#dc1018" stroke-width="1.1" stroke-linejoin="miter"/>
<path d="M655.1 63.4L657.5 67.3L652.8 67.3Z" fill="none" stroke="#dc1018" stroke-width="1.1" stroke-linejoin="miter"/>
<path d="M589.7 87.1L592.1 91.0L587.4 91.0Z" fill="none" stroke="#dc1018" stroke-width="1.1" stroke-linejoin="miter"/>
<path d="M611.4 84.9L613.8 88.8L609.0 88.8Z" fill="none" stroke="#dc1018" stroke-width="1.1" stroke-linejoin="miter"/>
<path d="M672.8 79.1L675.55 83.8L670.05 83.8Z" fill="#dc1018"/>
<path d="M620.3 86.3L623.05 91.0L617.55 91.0Z" fill="#dc1018"/>
<path d="M629.2 91.8L631.6 95.7L626.9 95.7Z" fill="none" stroke="#dc1018" stroke-width="1.1" stroke-linejoin="miter"/>
<path d="M642.1 91.9L644.85 96.6L639.35 96.6Z" fill="#dc1018"/>
<path d="M580.8 99.6L583.1 103.5L578.4 103.5Z" fill="none" stroke="#dc1018" stroke-width="1.1" stroke-linejoin="miter"/>
<path d="M611.4 98.2L614.15 102.9L608.65 102.9Z" fill="#dc1018"/>
<path d="M615.9 103.4L618.2 107.3L613.5 107.3Z" fill="none" stroke="#dc1018" stroke-width="1.1" stroke-linejoin="miter"/>
<path d="M611.4 106.0L614.15 110.7L608.65 110.7Z" fill="#dc1018"/>
<path d="M580.8 122.5L583.55 127.2L578.05 127.2Z" fill="#dc1018"/>
<path d="M598.5 123.5L601.25 128.2L595.75 128.2Z" fill="#dc1018"/>
<path d="M607.0 117.7L609.75 122.4L604.25 122.4Z" fill="#dc1018"/>
<path d="M607.0 120.4L609.75 125.1L604.25 125.1Z" fill="#dc1018"/>
<path d="M607.0 123.1L609.4 127.0L604.6 127.0Z" fill="none" stroke="#dc1018" stroke-width="1.1" stroke-linejoin="miter"/>
<path d="M611.4 124.2L613.8 128.1L609.0 128.1Z" fill="none" stroke="#dc1018" stroke-width="1.1" stroke-linejoin="miter"/>
<path d="M620.3 98.7L622.6 102.6L617.9 102.6Z" fill="none" stroke="#dc1018" stroke-width="1.1" stroke-linejoin="miter"/>
<path d="M646.6 98.7L649.35 103.4L643.85 103.4Z" fill="#dc1018"/>
<path d="M659.5 95.9L662.25 100.6L656.75 100.6Z" fill="#dc1018"/>
<path d="M668.4 95.9L671.15 100.6L665.65 100.6Z" fill="#dc1018"/>
<path d="M659.5 101.2L662.25 105.9L656.75 105.9Z" fill="#dc1018"/>
<path d="M642.1 107.1L644.85 111.8L639.35 111.8Z" fill="#dc1018"/>
<path d="M620.3 112.6L623.05 117.3L617.55 117.3Z" fill="#dc1018"/>
<path d="M633.2 115.1L635.95 119.8L630.45 119.8Z" fill="#dc1018"/>
<path d="M637.8 117.4L640.55 122.1L635.05 122.1Z" fill="#dc1018"/>
<path d="M642.1 118.7L644.85 123.4L639.35 123.4Z" fill="#dc1018"/>
<path d="M642.1 121.2L644.85 125.9L639.35 125.9Z" fill="#dc1018"/>
<path d="M655.1 113.6L657.85 118.3L652.35 118.3Z" fill="#dc1018"/>
<path d="M659.5 113.0L662.25 117.7L656.75 117.7Z" fill="#dc1018"/>
<path d="M624.7 122.5L627.45 127.2L621.95 127.2Z" fill="#dc1018"/>
<path d="M650.7 123.1L653.45 127.8L647.95 127.8Z" fill="#dc1018"/>
<path d="M655.1 124.2L657.5 128.1L652.8 128.1Z" fill="none" stroke="#dc1018" stroke-width="1.1" stroke-linejoin="miter"/>
<path d="M567.6 127.5L570.35 132.2L564.85 132.2Z" fill="#dc1018"/>
<path d="M611.2 126.8L613.6 130.7L608.9 130.7Z" fill="none" stroke="#dc1018" stroke-width="1.1" stroke-linejoin="miter"/>
<path d="M602.1 129.1L604.85 133.8L599.35 133.8Z" fill="#dc1018"/>
<path d="M607.2 128.4L609.95 133.1L604.45 133.1Z" fill="#dc1018"/>
<path d="M611.2 129.6L613.95 134.3L608.45 134.3Z" fill="#dc1018"/>
<path d="M615.8 131.5L618.55 136.2L613.05 136.2Z" fill="#dc1018"/>
<path d="M606.8 132.3L609.55 137.0L604.05 137.0Z" fill="#dc1018"/>
<path d="M606.8 137.0L609.55 141.7L604.05 141.7Z" fill="#dc1018"/>
<path d="M589.7 140.4L592.45 145.1L586.95 145.1Z" fill="#dc1018"/>
<path d="M607.0 144.8L609.75 149.5L604.25 149.5Z" fill="#dc1018"/>
<path d="M633.2 130.5L635.95 135.2L630.45 135.2Z" fill="#dc1018"/>
<path d="M637.8 131.4L640.1 135.3L635.4 135.3Z" fill="none" stroke="#dc1018" stroke-width="1.1" stroke-linejoin="miter"/>
<path d="M646.6 130.0L649.35 134.7L643.85 134.7Z" fill="#dc1018"/>
<path d="M646.6 132.8L649.35 137.5L643.85 137.5Z" fill="#dc1018"/>
<path d="M629.1 137.7L631.5 141.6L626.8 141.6Z" fill="none" stroke="#dc1018" stroke-width="1.1" stroke-linejoin="miter"/>
<path d="M655.1 134.5L657.5 138.4L652.8 138.4Z" fill="none" stroke="#dc1018" stroke-width="1.1" stroke-linejoin="miter"/>
<path d="M659.5 135.1L662.25 139.8L656.75 139.8Z" fill="#dc1018"/>
<path d="M620.3 143.4L622.6 147.3L617.9 147.3Z" fill="none" stroke="#dc1018" stroke-width="1.1" stroke-linejoin="miter"/>
<path d="M624.7 141.9L627.45 146.6L621.95 146.6Z" fill="#dc1018"/>
<path d="M637.8 142.3L640.55 147.0L635.05 147.0Z" fill="#dc1018"/>
<path d="M659.5 140.4L662.25 145.1L656.75 145.1Z" fill="#dc1018"/>
<path d="M659.5 143.9L662.25 148.6L656.75 148.6Z" fill="#dc1018"/>
<path d="M659.5 148.4L661.9 152.3L657.1 152.3Z" fill="none" stroke="#dc1018" stroke-width="1.1" stroke-linejoin="miter"/>
<path d="M624.7 152.0L627.1 155.9L622.4 155.9Z" fill="none" stroke="#dc1018" stroke-width="1.1" stroke-linejoin="miter"/>
<path d="M642.1 152.0L644.5 155.9L639.8 155.9Z" fill="none" stroke="#dc1018" stroke-width="1.1" stroke-linejoin="miter"/>
<path d="M650.7 151.5L653.45 156.2L647.95 156.2Z" fill="#dc1018"/>
<path d="M655.1 151.7L657.85 156.4L652.35 156.4Z" fill="#dc1018"/>
<path d="M545.7 156.0L548.45 160.7L542.95 160.7Z" fill="#dc1018"/>
<path d="M589.7 157.6L592.45 162.3L586.95 162.3Z" fill="#dc1018"/>
<path d="M598.2 155.1L600.95 159.8L595.45 159.8Z" fill="#dc1018"/>
<path d="M598.2 158.7L600.95 163.4L595.45 163.4Z" fill="#dc1018"/>
<path d="M576.7 161.5L579.1 165.4L574.4 165.4Z" fill="none" stroke="#dc1018" stroke-width="1.1" stroke-linejoin="miter"/>
<path d="M567.8 165.2L570.55 169.9L565.05 169.9Z" fill="#dc1018"/>
<path d="M585.1 165.1L587.5 169.0L582.8 169.0Z" fill="none" stroke="#dc1018" stroke-width="1.1" stroke-linejoin="miter"/>
<path d="M598.5 169.1L600.9 173.0L596.1 173.0Z" fill="none" stroke="#dc1018" stroke-width="1.1" stroke-linejoin="miter"/>
<path d="M607.0 169.6L609.75 174.3L604.25 174.3Z" fill="#dc1018"/>
<path d="M585.1 175.3L587.85 180.0L582.35 180.0Z" fill="#dc1018"/>
<path d="M580.8 176.8L583.55 181.5L578.05 181.5Z" fill="#dc1018"/>
<path d="M580.8 179.3L583.55 184.0L578.05 184.0Z" fill="#dc1018"/>
<path d="M655.1 154.9L657.5 158.8L652.8 158.8Z" fill="none" stroke="#dc1018" stroke-width="1.1" stroke-linejoin="miter"/>
<path d="M628.9 158.5L631.65 163.2L626.15 163.2Z" fill="#dc1018"/>
<path d="M628.9 162.7L631.65 167.4L626.15 167.4Z" fill="#dc1018"/>
<path d="M633.2 163.9L635.95 168.6L630.45 168.6Z" fill="#dc1018"/>
<path d="M620.3 165.7L622.6 169.6L617.9 169.6Z" fill="none" stroke="#dc1018" stroke-width="1.1" stroke-linejoin="miter"/>
<path d="M620.3 173.2L623.05 177.9L617.55 177.9Z" fill="#dc1018"/>
<path d="M628.9 174.9L631.2 178.8L626.5 178.8Z" fill="none" stroke="#dc1018" stroke-width="1.1" stroke-linejoin="miter"/>
<path d="M646.6 177.0L649.35 181.7L643.85 181.7Z" fill="#dc1018"/>
<path d="M589.5 184.5L591.9 188.4L587.1 188.4Z" fill="none" stroke="#dc1018" stroke-width="1.1" stroke-linejoin="miter"/>
<path d="M607.1 181.4L609.85 186.1L604.35 186.1Z" fill="#dc1018"/>
<path d="M593.9 201.9L596.65 206.6L591.15 206.6Z" fill="#dc1018"/>
</svg></body></html>
